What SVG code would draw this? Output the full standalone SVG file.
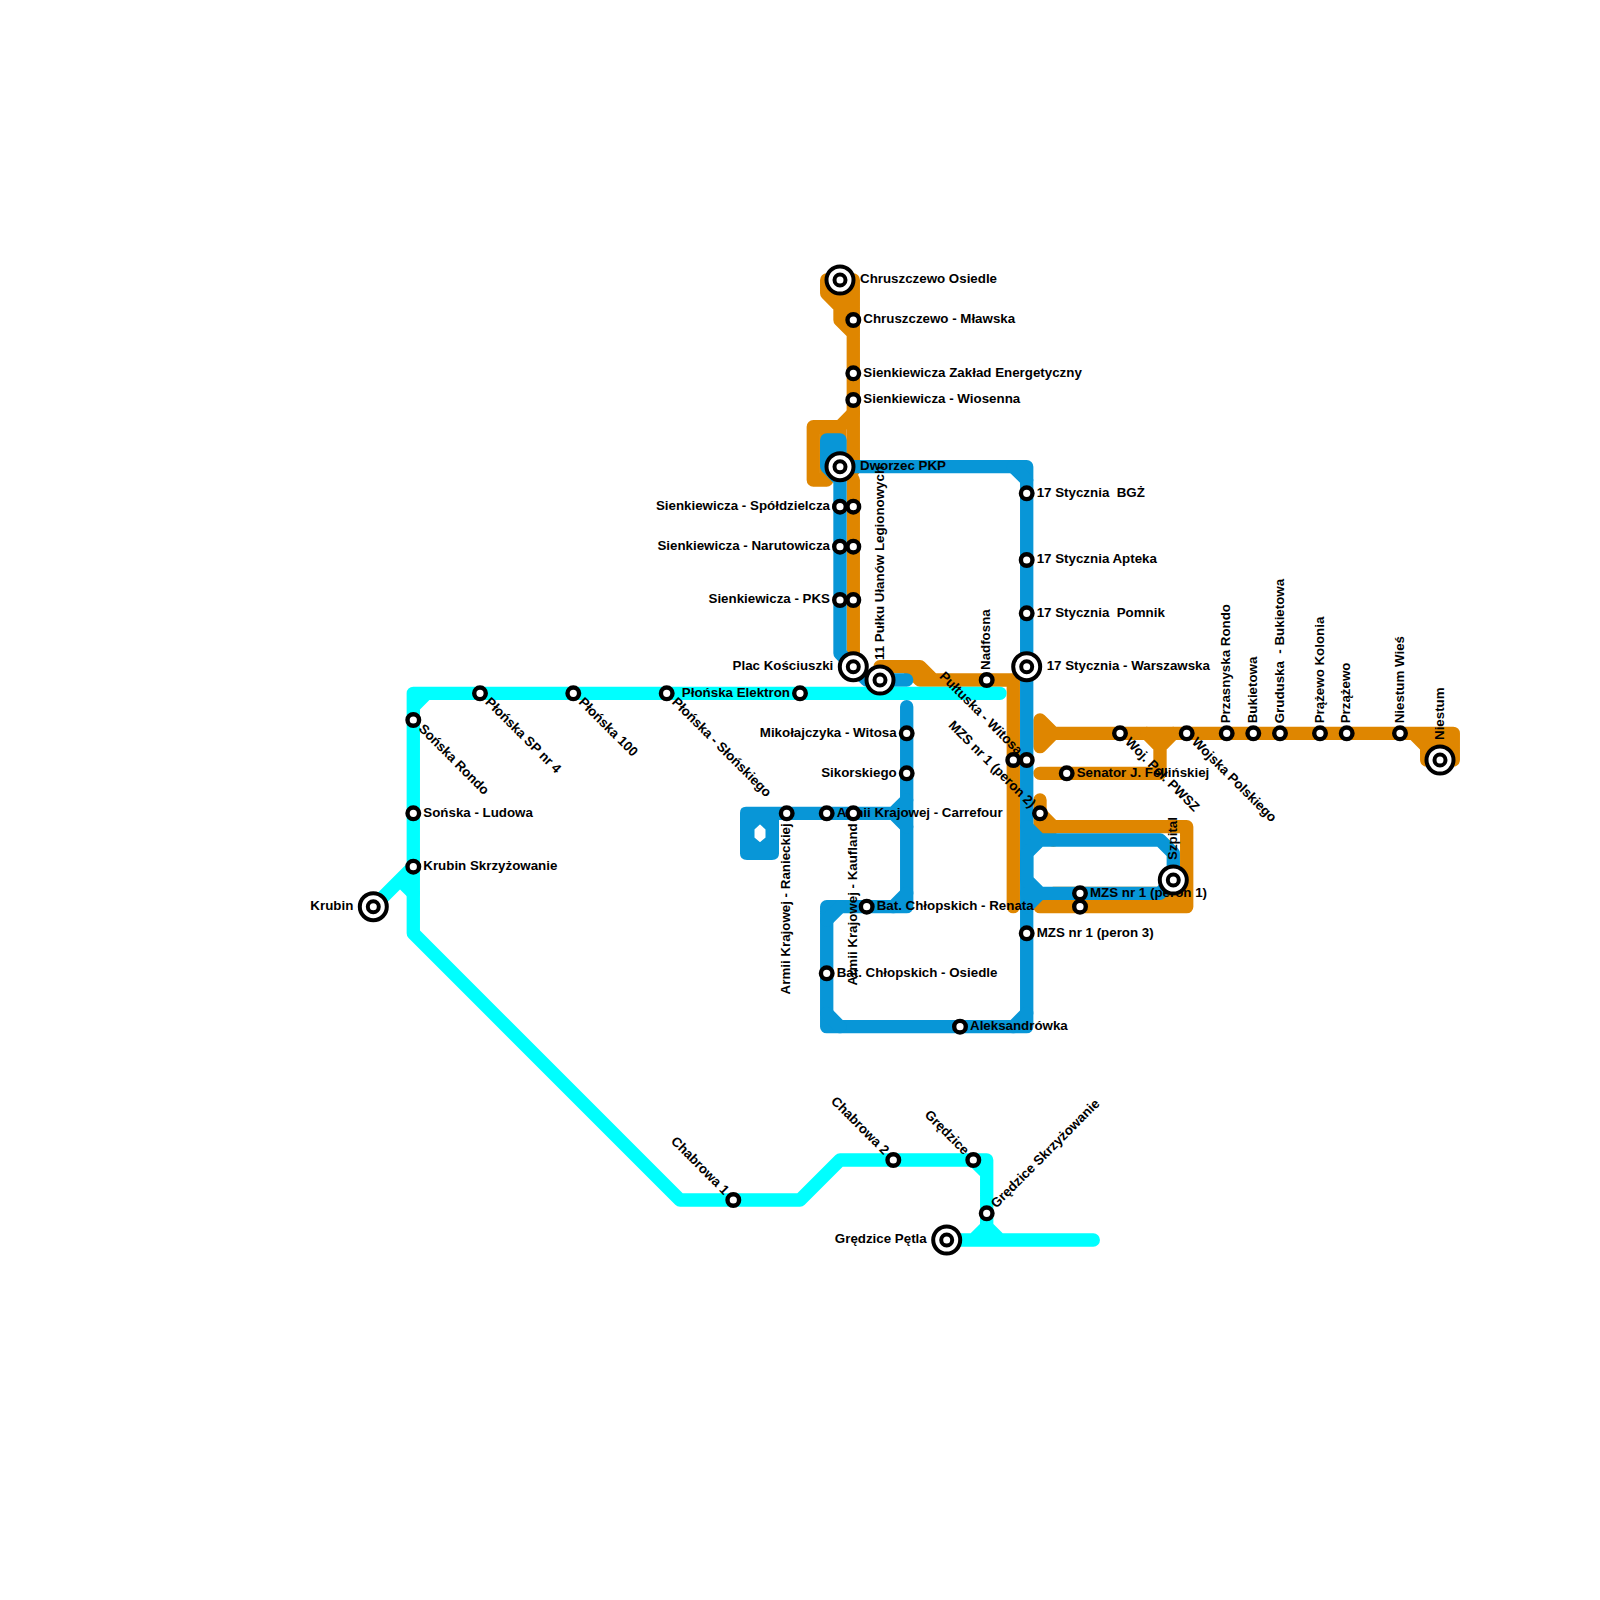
<svg xmlns="http://www.w3.org/2000/svg" width="1600" height="1600" viewBox="0 0 1600 1600">
<style>
.l{fill:none;stroke-width:13.33;stroke-linecap:round;stroke-linejoin:round}
.o{stroke:#df8600}.b{stroke:#0896d7}.c{stroke:#00ffff}
.s{fill:#fff;stroke:#000;stroke-width:4.4}
.t{fill:#fff;stroke:#000;stroke-width:4}
text{font-family:"Liberation Sans",Arial,sans-serif;font-weight:bold;font-size:13.33px;fill:#000}
.e{text-anchor:end}
</style>
<rect width="1600" height="1600" fill="#fff"/>
<g id="connectors">
<g id="line-orange" class="l o">
<path d="M826.7 280V293.3L840 306.7V320L853.3 333.3V453.3M826.7 280H853.3V333.3M840 280V320"/>
<path d="M853.3 413.3L840 426.7H813.3V480H826.7M840 426.7V470H853.3V453.3M826.7 426.7V480"/>
<path d="M853.3 480V666.7"/>
<path d="M880 666.7H920L933.3 680H1013.3V906.7M906.7 666.7L920 680H933.3"/>
<path d="M1040 720L1053.3 733.3L1040 746.7ZM1040 733.3H1453.3V760H1426.7V746.7L1413.3 733.3M1426.7 746.7H1453.3"/>
<path d="M1040 773.3H1160V746.7L1146.7 733.3M1173.3 733.3L1160 746.7"/>
<path d="M1040 800V813.3L1053.3 826.7H1186.7V906.7H1040L1053.3 893.3H1186.7M1040 813.3V826.7L1053.3 840"/>
</g>
<g id="line-blue" class="l b">
<path d="M826.7 440H840V466.7M826.7 440V466.7L840 480V653.3L853.3 666.7L866.7 680H906.7"/>
<path d="M840 466.7H1026.7V1026.7H826.7V906.7H906.7V706.7"/>
<path d="M1013.3 466.7L1026.7 480M1013.3 1026.7L1026.7 1013.3M826.7 1013.3L840 1026.7M826.7 920L840 906.7M893.3 906.7L906.7 893.3"/>
<path d="M786.7 813.3H893.3L906.7 800M893.3 813.3L906.7 826.7"/>
<path d="M1026.7 826.7L1040 840H1160L1173.3 853.3V880L1160 893.3H1040L1026.7 880V853.3L1040 840M1026.7 893.3H1040L1026.7 906.7"/>
</g>
<path id="block-blue" fill="#0896d7" stroke="#0896d7" stroke-width="2" stroke-linejoin="round" fill-rule="evenodd" d="M746 807.7H790V819H778V853.5Q778 859 772 859H747Q741 859 741 853.5V813Q741 807.7 746 807.7ZM760 823L753.5 829V838L760 843.5L766.5 838V829Z"/>
<g id="line-cyan" class="l c">
<path d="M1000 693.3H413.3V933.3L680 1200H800L840 1160H986.7V1226.7L973.3 1240M973.3 1160L986.7 1173.3M986.7 1226.7L1000 1240M946.7 1240H1093.3M413.3 706.7L426.7 693.3"/>
<path d="M373.3 906.7L413.3 866.7M400 880L413.3 893.3"/>
</g>
</g>
<g id="n1"><text x="860" y="283.3">Chruszczewo Osiedle</text><circle class="t" cx="840" cy="280" r="13.5"/><circle class="t" cx="840" cy="280" r="5.5"/></g>
<g id="n2"><text x="863.3" y="323.3">Chruszczewo - Mławska</text><circle class="s" cx="853.3" cy="320" r="5.8"/></g>
<g id="n3"><text x="863.3" y="376.7">Sienkiewicza Zakład Energetyczny</text><circle class="s" cx="853.3" cy="373.3" r="5.8"/></g>
<g id="n4"><text x="863.3" y="403.3">Sienkiewicza - Wiosenna</text><circle class="s" cx="853.3" cy="400" r="5.8"/></g>
<g id="n5"><text transform="translate(880 680) rotate(-90)" x="20" y="3.5">11 Pułku Ułanów Legionowych</text><circle class="t" cx="880" cy="680" r="13.5"/><circle class="t" cx="880" cy="680" r="5.5"/></g>
<g id="n6"><text x="860" y="470">Dworzec PKP</text><circle class="t" cx="840" cy="466.7" r="13.5"/><circle class="t" cx="840" cy="466.7" r="5.5"/></g>
<g id="n7"><text class="e" x="830" y="510">Sienkiewicza - Spółdzielcza</text><circle class="s" cx="840" cy="506.7" r="5.8"/></g>
<g id="n8"><circle class="s" cx="853.3" cy="506.7" r="5.8"/></g>
<g id="n9"><text class="e" x="830" y="550">Sienkiewicza - Narutowicza</text><circle class="s" cx="840" cy="546.7" r="5.8"/></g>
<g id="n10"><circle class="s" cx="853.3" cy="546.7" r="5.8"/></g>
<g id="n11"><text class="e" x="830" y="603.3">Sienkiewicza - PKS</text><circle class="s" cx="840" cy="600" r="5.8"/></g>
<g id="n12"><circle class="s" cx="853.3" cy="600" r="5.8"/></g>
<g id="n13"><text class="e" x="833.3" y="670">Plac Kościuszki</text><circle class="t" cx="853.3" cy="666.7" r="13.5"/><circle class="t" cx="853.3" cy="666.7" r="5.5"/></g>
<g id="n15"><text transform="translate(986.7 680) rotate(-90)" x="10" y="3.5">Nadfosna</text><circle class="s" cx="986.7" cy="680" r="5.8"/></g>
<g id="n16"><text x="1036.7" y="496.7">17 Stycznia &#160;BGŻ</text><circle class="s" cx="1026.7" cy="493.3" r="5.8"/></g>
<g id="n17"><text x="1036.7" y="563.3">17 Stycznia Apteka</text><circle class="s" cx="1026.7" cy="560" r="5.8"/></g>
<g id="n18"><text x="1036.7" y="616.7">17 Stycznia &#160;Pomnik</text><circle class="s" cx="1026.7" cy="613.3" r="5.8"/></g>
<g id="n19"><text x="1046.7" y="670">17 Stycznia - Warszawska</text><circle class="t" cx="1026.7" cy="666.7" r="13.5"/><circle class="t" cx="1026.7" cy="666.7" r="5.5"/></g>
<g id="n20"><text class="e" x="790" y="696.7">Płońska Elektron</text><circle class="s" cx="800" cy="693.3" r="5.8"/></g>
<g id="n21"><text transform="translate(666.7 693.3) rotate(45)" x="10" y="3.5">Płońska - Słońskiego</text><circle class="s" cx="666.7" cy="693.3" r="5.8"/></g>
<g id="n22"><text transform="translate(573.3 693.3) rotate(45)" x="10" y="3.5">Płońska 100</text><circle class="s" cx="573.3" cy="693.3" r="5.8"/></g>
<g id="n23"><text transform="translate(480 693.3) rotate(45)" x="10" y="3.5">Płońska SP nr 4</text><circle class="s" cx="480" cy="693.3" r="5.8"/></g>
<g id="n24"><text transform="translate(413.3 720) rotate(45)" x="10" y="3.5">Sońska Rondo</text><circle class="s" cx="413.3" cy="720" r="5.8"/></g>
<g id="n25"><text x="423.3" y="816.7">Sońska - Ludowa</text><circle class="s" cx="413.3" cy="813.3" r="5.8"/></g>
<g id="n26"><text x="423.3" y="870">Krubin Skrzyżowanie</text><circle class="s" cx="413.3" cy="866.7" r="5.8"/></g>
<g id="n27"><text class="e" x="353.3" y="910">Krubin</text><circle class="t" cx="373.3" cy="906.7" r="13.5"/><circle class="t" cx="373.3" cy="906.7" r="5.5"/></g>
<g id="n28"><text class="e" x="896.7" y="736.7">Mikołajczyka - Witosa</text><circle class="s" cx="906.7" cy="733.3" r="5.8"/></g>
<g id="n29"><text class="e" x="896.7" y="776.7">Sikorskiego</text><circle class="s" cx="906.7" cy="773.3" r="5.8"/></g>
<g id="n30"><text transform="translate(786.7 813.3) rotate(-90)" class="e" x="-10" y="3.5">Armii Krajowej - Ranieckiej</text><circle class="s" cx="786.7" cy="813.3" r="5.8"/></g>
<g id="n31"><text x="836.7" y="816.7">Armii Krajowej - Carrefour</text><circle class="s" cx="826.7" cy="813.3" r="5.8"/></g>
<g id="n32"><text transform="translate(853.3 813.3) rotate(-90)" class="e" x="-10" y="3.5">Armii Krajowej - Kaufland</text><circle class="s" cx="853.3" cy="813.3" r="5.8"/></g>
<g id="n33"><text x="876.7" y="910">Bat. Chłopskich - Renata</text><circle class="s" cx="866.7" cy="906.7" r="5.8"/></g>
<g id="n34"><text x="836.7" y="976.7">Bat. Chłopskich - Osiedle</text><circle class="s" cx="826.7" cy="973.3" r="5.8"/></g>
<g id="n35"><text x="970" y="1030">Aleksandrówka</text><circle class="s" cx="960" cy="1026.7" r="5.8"/></g>
<g id="n36"><text x="1036.7" y="936.7">MZS nr 1 (peron 3)</text><circle class="s" cx="1026.7" cy="933.3" r="5.8"/></g>
<g id="n37"><text transform="translate(1026.7 760) rotate(45)" class="e" x="-10" y="3.5">Pułtuska - Witosa</text><circle class="s" cx="1026.7" cy="760" r="5.8"/></g>
<g id="n38"><circle class="s" cx="1013.3" cy="760" r="5.8"/></g>
<g id="n39"><text transform="translate(1040 813.3) rotate(45)" class="e" x="-10" y="3.5">MZS nr 1 (peron 2)</text><circle class="s" cx="1040" cy="813.3" r="5.8"/></g>
<g id="n40"><text x="1076.7" y="776.7">Senator J. Fellińskiej</text><circle class="s" cx="1066.7" cy="773.3" r="5.8"/></g>
<g id="n41"><text transform="translate(1120 733.3) rotate(45)" x="10" y="3.5">Woj. Pol. PWSZ</text><circle class="s" cx="1120" cy="733.3" r="5.8"/></g>
<g id="n42"><text transform="translate(1186.7 733.3) rotate(45)" x="10" y="3.5">Wojska Polskiego</text><circle class="s" cx="1186.7" cy="733.3" r="5.8"/></g>
<g id="n43"><text x="1090" y="896.7">MZS nr 1 (peron 1)</text><circle class="s" cx="1080" cy="893.3" r="5.8"/></g>
<g id="n44"><circle class="s" cx="1080" cy="906.7" r="5.8"/></g>
<g id="n45"><text transform="translate(1173.3 880) rotate(-90)" x="20" y="3.5">Szpital</text><circle class="t" cx="1173.3" cy="880" r="13.5"/><circle class="t" cx="1173.3" cy="880" r="5.5"/></g>
<g id="n46"><text transform="translate(1226.7 733.3) rotate(-90)" x="10" y="3.5">Przasnyska Rondo</text><circle class="s" cx="1226.7" cy="733.3" r="5.8"/></g>
<g id="n47"><text transform="translate(1253.3 733.3) rotate(-90)" x="10" y="3.5">Bukietowa</text><circle class="s" cx="1253.3" cy="733.3" r="5.8"/></g>
<g id="n48"><text transform="translate(1280 733.3) rotate(-90)" x="10" y="3.5">Gruduska &#160;- Bukietowa</text><circle class="s" cx="1280" cy="733.3" r="5.8"/></g>
<g id="n49"><text transform="translate(1320 733.3) rotate(-90)" x="10" y="3.5">Prążewo Kolonia</text><circle class="s" cx="1320" cy="733.3" r="5.8"/></g>
<g id="n50"><text transform="translate(1346.7 733.3) rotate(-90)" x="10" y="3.5">Przążewo</text><circle class="s" cx="1346.7" cy="733.3" r="5.8"/></g>
<g id="n51"><text transform="translate(1400 733.3) rotate(-90)" x="10" y="3.5">Niestum Wieś</text><circle class="s" cx="1400" cy="733.3" r="5.8"/></g>
<g id="n52"><text transform="translate(1440 760) rotate(-90)" x="20" y="3.5">Niestum</text><circle class="t" cx="1440" cy="760" r="13.5"/><circle class="t" cx="1440" cy="760" r="5.5"/></g>
<g id="n53"><text transform="translate(733.3 1200) rotate(45)" class="e" x="-10" y="3.5">Chabrowa 1</text><circle class="s" cx="733.3" cy="1200" r="5.8"/></g>
<g id="n54"><text transform="translate(893.3 1160) rotate(45)" class="e" x="-10" y="3.5">Chabrowa 2</text><circle class="s" cx="893.3" cy="1160" r="5.8"/></g>
<g id="n55"><text transform="translate(973.3 1160) rotate(45)" class="e" x="-10" y="3.5">Grędzice</text><circle class="s" cx="973.3" cy="1160" r="5.8"/></g>
<g id="n56"><text transform="translate(986.7 1213.3) rotate(-45)" x="10" y="3.5">Grędzice Skrzyżowanie</text><circle class="s" cx="986.7" cy="1213.3" r="5.8"/></g>
<g id="n57"><text class="e" x="926.7" y="1243.3">Grędzice Pętla</text><circle class="t" cx="946.7" cy="1240" r="13.5"/><circle class="t" cx="946.7" cy="1240" r="5.5"/></g>
</svg>
